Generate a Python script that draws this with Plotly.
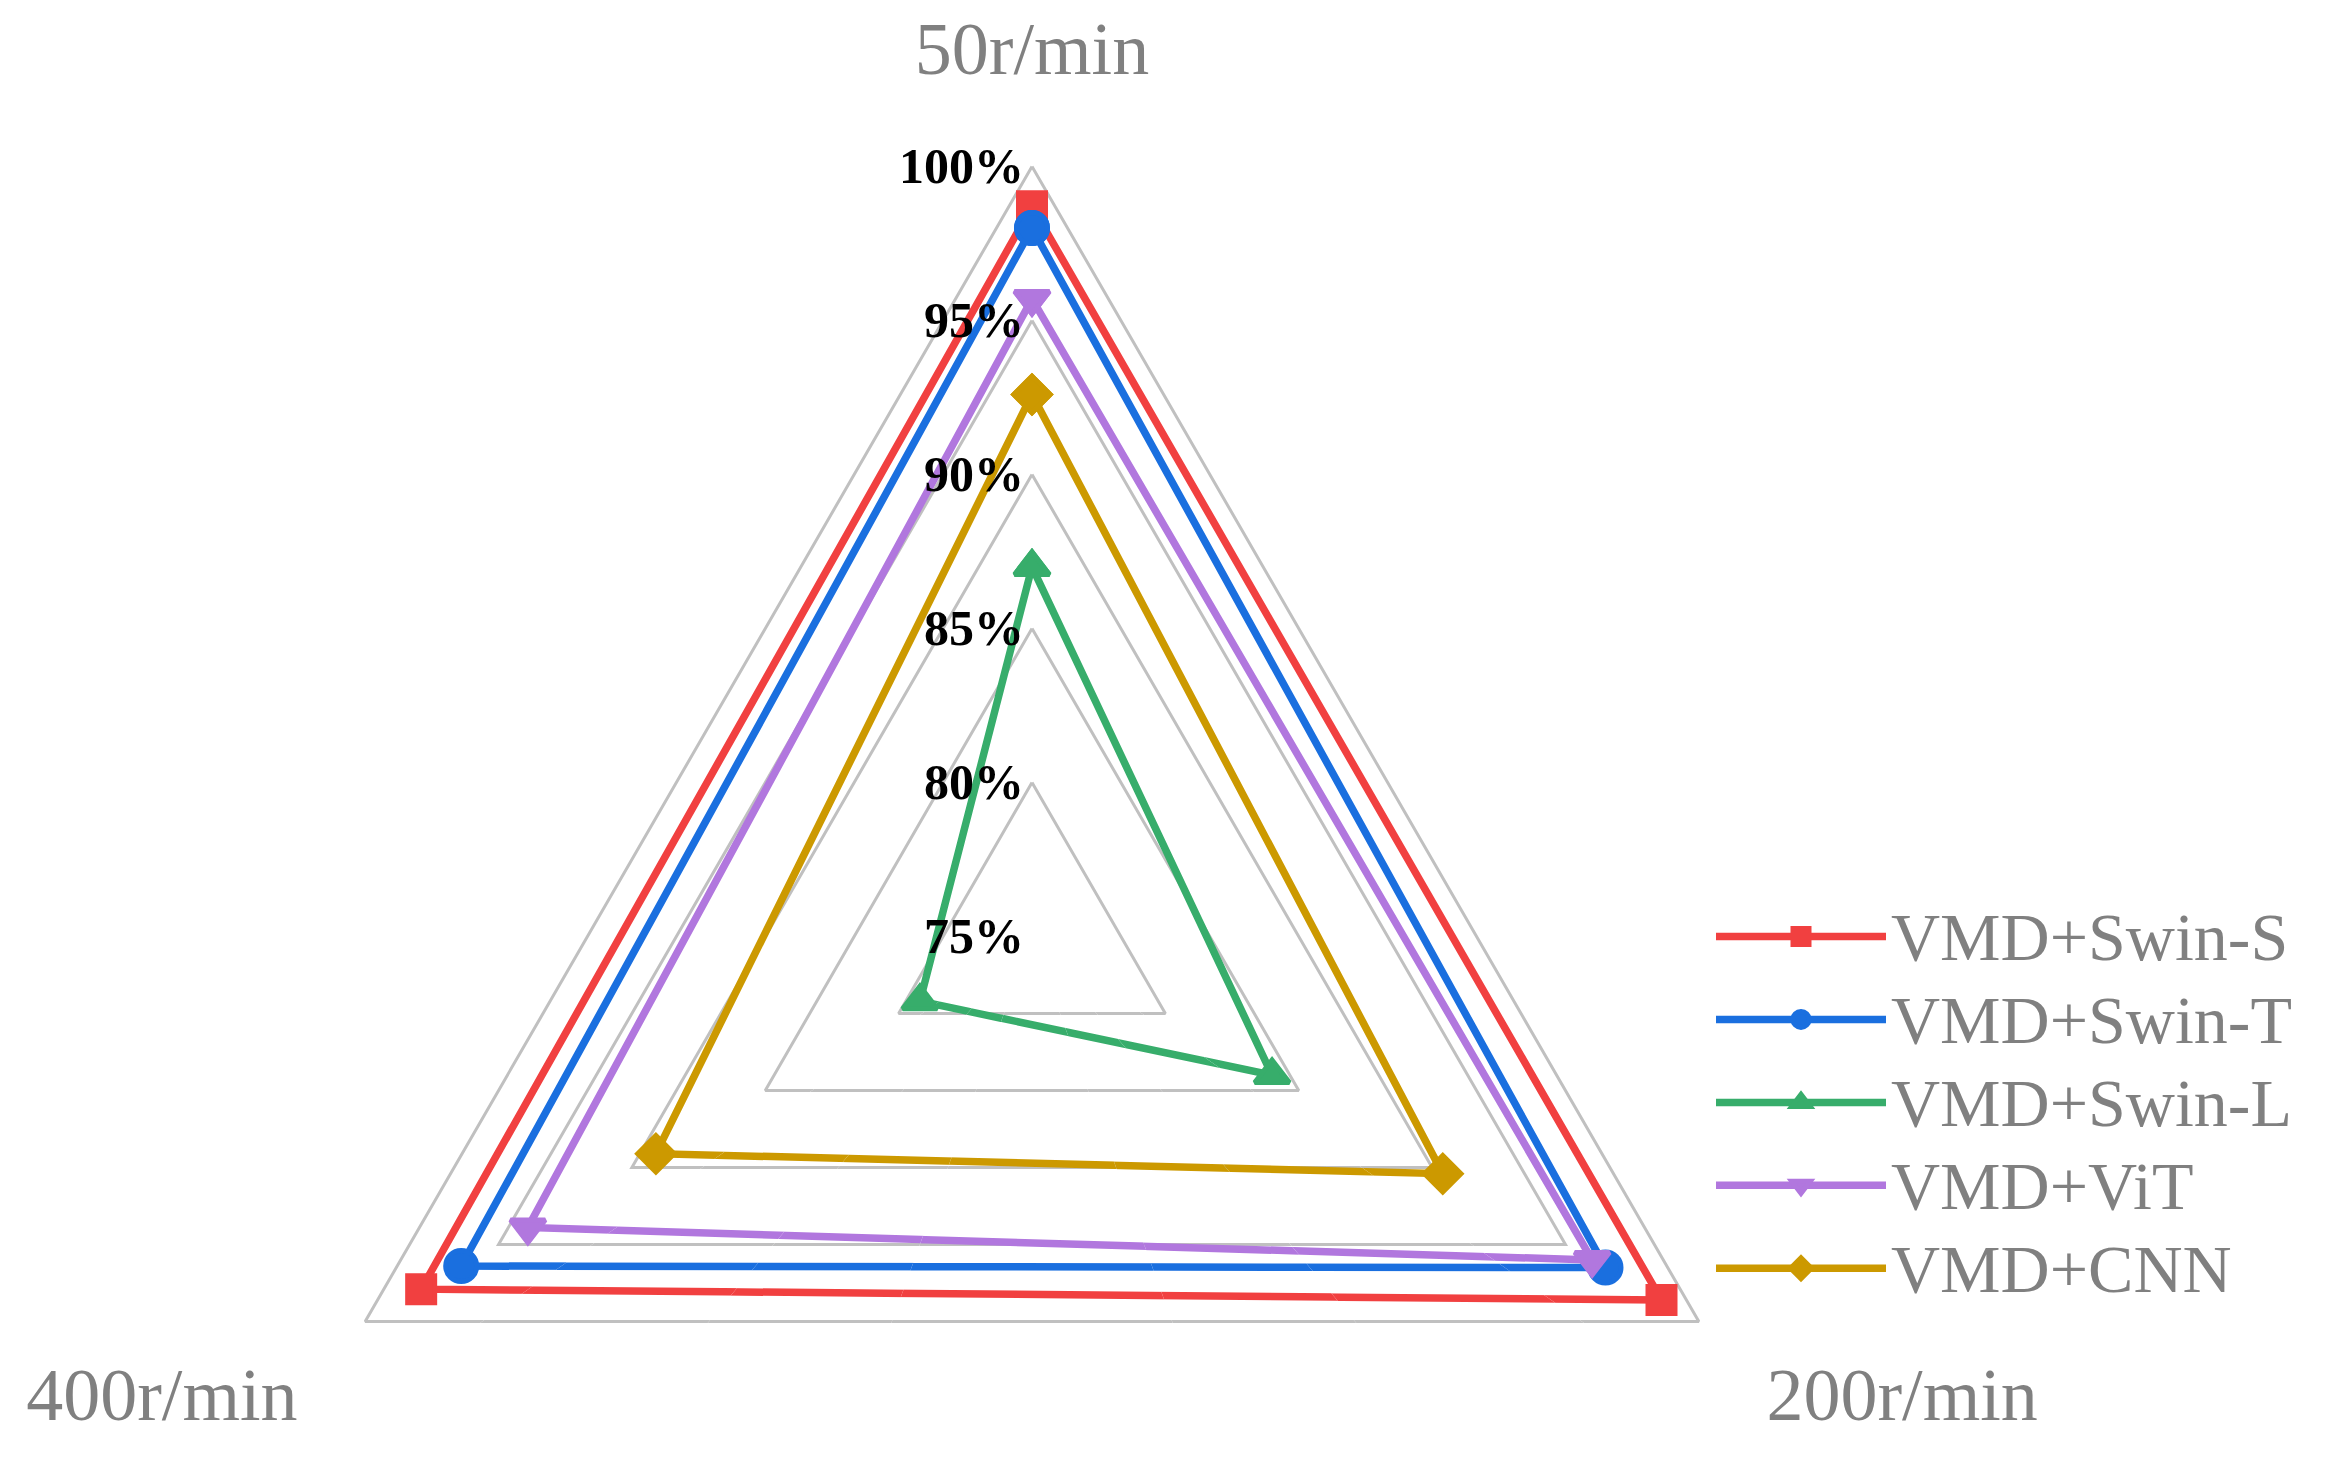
import math
import plotly.graph_objects as go

# ---- data ----
categories = ["50r/min", "200r/min", "400r/min"]
series_names = ["VMD+Swin-S", "VMD+Swin-T", "VMD+Swin-L", "VMD+ViT", "VMD+CNN"]
swin_s = [98.7, 98.6, 97.9]
swin_t = [98.0, 96.5, 96.4]
swin_l = [87.0, 84.0, 79.2]
vit = [95.7, 96.0, 93.9]
cnn = [92.6, 90.4, 89.1]
radial_ticks = [75, 80, 85, 90, 95, 100]
radial_ticktext = ["75%", "80%", "85%", "90%", "95%", "100%"]
grid_levels = [80, 85, 90, 95, 100]

# ---- style / geometry ----
SERIF = "Liberation Serif, Times New Roman, serif"
colors = ["#F14040", "#1A6FDF", "#37AD6B", "#B177DE", "#CC9900"]
symbols = ["square", "circle", "triangle-up", "triangle-down", "diamond"]
sizes = [27, 31, 30, 30, 28]
values = [swin_s, swin_t, swin_l, vit, cnn]

W, H = 2327, 1469
CX, CY = 1024.0, 928.5          # polar centre in figure pixels
RMIN, RMAX = 75, 100
PX_PER_UNIT = 770.0 / (RMAX - RMIN)


def sector_bbox(s0, s1):
    """Same bounding box rule plotly uses for a polar sector."""
    arc = s1 - s0
    a0 = s0 % 360
    a1 = a0 + arc
    c0, c1 = math.cos(math.radians(a0)), math.cos(math.radians(a1))
    n0, n1 = math.sin(math.radians(a0)), math.sin(math.radians(a1))
    if (a0 <= 90 and a1 >= 90) or (a0 > 90 and a1 >= 450):
        y1 = 1
    elif n0 <= 0 and n1 <= 0:
        y1 = 0
    else:
        y1 = max(n0, n1)
    if (a0 <= 180 and a1 >= 180) or (a0 > 180 and a1 >= 540):
        x0 = -1
    elif c0 >= 0 and c1 >= 0:
        x0 = 0
    else:
        x0 = min(c0, c1)
    if (a0 <= 270 and a1 >= 270) or (a0 > 270 and a1 >= 630):
        y0 = -1
    elif n0 >= 0 and n1 >= 0:
        y0 = 0
    else:
        y0 = min(n0, n1)
    if a1 >= 360:
        x1 = 1
    elif c0 <= 0 and c1 <= 0:
        x1 = 0
    else:
        x1 = max(c0, c1)
    return x0, y0, x1, y1


def domain_for(sector, vmax):
    R = (vmax - RMIN) * PX_PER_UNIT
    x0, y0, x1, y1 = sector_bbox(*sector)
    left, right = CX + R * x0, CX + R * x1
    top, bottom = CY - R * y1, CY - R * y0
    return dict(x=[left / W, right / W], y=[1 - bottom / H, 1 - top / H])


# main subplot (everything but the lower wedge) + lower wedges that only
# carry the bottom edges of the triangles, so nothing gets clipped
main_sector = [-35, 215]
main_vmax = 101
depth_px = 0.5 * (RMAX - RMIN) * PX_PER_UNIT  # depth of outer bottom edge
wedges = [[215, 230], [230, 250], [250, 290], [290, 310], [310, 325]]

closed_theta = categories + [categories[0]]
fig = go.Figure()

subplots = ["polar"] + ["polar%d" % (i + 2) for i in range(len(wedges))]

for k, sp in enumerate(subplots):
    main = (k == 0)
    for g in grid_levels:
        fig.add_trace(go.Scatterpolar(
            r=[g] * len(closed_theta), theta=closed_theta, mode="lines",
            line=dict(color="#C0C0C0", width=3), showlegend=False,
            hoverinfo="skip", cliponaxis=False, subplot=sp))
    for name, vals, col, sym, sz in zip(series_names, values, colors, symbols, sizes):
        fig.add_trace(go.Scatterpolar(
            r=vals + [vals[0]], theta=closed_theta,
            name='<span style="font-size:68px">%s</span>' % name,
            mode="lines+markers" if main else "lines",
            line=dict(color=col, width=7.5),
            marker=dict(symbol=sym, size=sz, color=col,
                        line=dict(color=col, width=5)),
            showlegend=main, hoverinfo="skip" if not main else None,
            cliponaxis=False, subplot=sp))

hidden_angular = dict(type="category", categoryorder="array",
                      categoryarray=categories, rotation=90,
                      direction="clockwise", visible=False)

layout = dict(
    width=W, height=H,
    margin=dict(l=0, r=0, t=0, b=0),
    paper_bgcolor="white",
    showlegend=True,
    legend=dict(
        x=1703 / W, y=1 - 882 / H, xanchor="left", yanchor="top",
        font=dict(family=SERIF, size=61.5, color="#808080"),
        itemwidth=170, bgcolor="rgba(0,0,0,0)"),
)

layout["polar"] = dict(
    domain=domain_for(main_sector, main_vmax),
    sector=main_sector,
    gridshape="circular",
    bgcolor="rgba(0,0,0,0)",
    radialaxis=dict(
        range=[RMIN, main_vmax], tickmode="array", tickvals=radial_ticks,
        ticktext=radial_ticktext, angle=90, side="counterclockwise",
        showline=False, showgrid=False, ticks="", tickangle=90,
        tickfont=dict(family=SERIF, size=50, color="black", weight="bold")),
    angularaxis=dict(
        type="category", categoryorder="array", categoryarray=categories,
        rotation=90, direction="clockwise", showline=False, showgrid=False,
        ticks="outside", ticklen=32, tickcolor="rgba(0,0,0,0)",
        tickfont=dict(family=SERIF, size=74, color="#808080")),
)

for sp, sec in zip(subplots[1:], wedges):
    a_lo, a_hi = sec
    # smallest angle below the horizontal inside this wedge
    phi = min(abs(math.sin(math.radians(a_lo))), abs(math.sin(math.radians(a_hi))))
    rmax_px = depth_px / phi + 14
    vmax = RMIN + rmax_px / PX_PER_UNIT
    layout[sp] = dict(
        domain=domain_for(sec, vmax),
        sector=sec,
        gridshape="circular",
        bgcolor="rgba(0,0,0,0)",
        radialaxis=dict(range=[RMIN, vmax], visible=False, showgrid=False),
        angularaxis=dict(hidden_angular, showgrid=False),
    )

fig.update_layout(**layout)
fig.write_html("out.html")
